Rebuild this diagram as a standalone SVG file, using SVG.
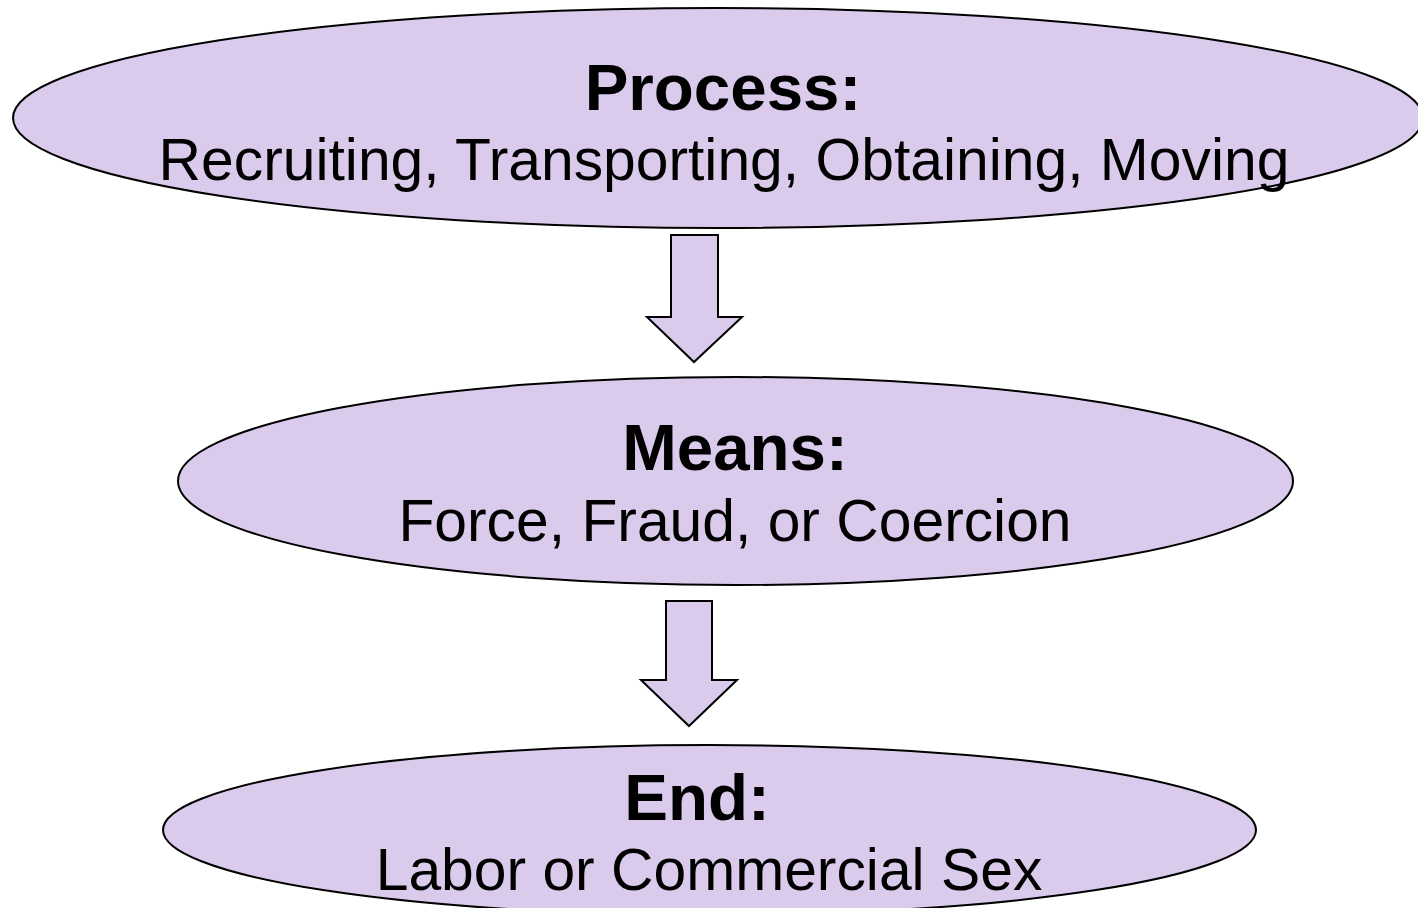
<svg xmlns="http://www.w3.org/2000/svg" width="1418" height="908" viewBox="0 0 1418 908">
<style>
.node{fill:#dacbec;stroke:#000;stroke-width:2}
.arrow{fill:#dacbec;stroke:#000;stroke-width:2;stroke-linejoin:miter}
.t{font-family:"Liberation Sans",Arial,sans-serif;fill:#000;text-anchor:middle}
.h{font-size:65.5px;font-weight:bold}
.b{font-size:58.8px}
</style>
<rect width="1418" height="908" fill="#fff"/>
<g id="connectors">
<polygon class="arrow" points="671,235 718,235 718,317 742,317 694,362 647,317 671,317"/>
<polygon class="arrow" points="666,601 712,601 712,680 737,680 689,726 641,680 666,680"/>
</g>
<g id="process">
<ellipse class="node" cx="718" cy="118" rx="705" ry="110"/>
<text class="t h" x="723" y="110">Process:</text>
<text class="t b" x="724" y="180">Recruiting, Transporting, Obtaining, Moving</text>
</g>
<g id="means">
<ellipse class="node" cx="735.5" cy="481" rx="557.5" ry="104"/>
<text class="t h" x="735" y="470">Means:</text>
<text class="t b" x="735" y="541">Force, Fraud, or Coercion</text>
</g>
<g id="end">
<ellipse class="node" cx="709.5" cy="830" rx="546.5" ry="85"/>
<text class="t h" x="697" y="820">End:</text>
<text class="t b" x="709" y="890">Labor or Commercial Sex</text>
</g>
</svg>
